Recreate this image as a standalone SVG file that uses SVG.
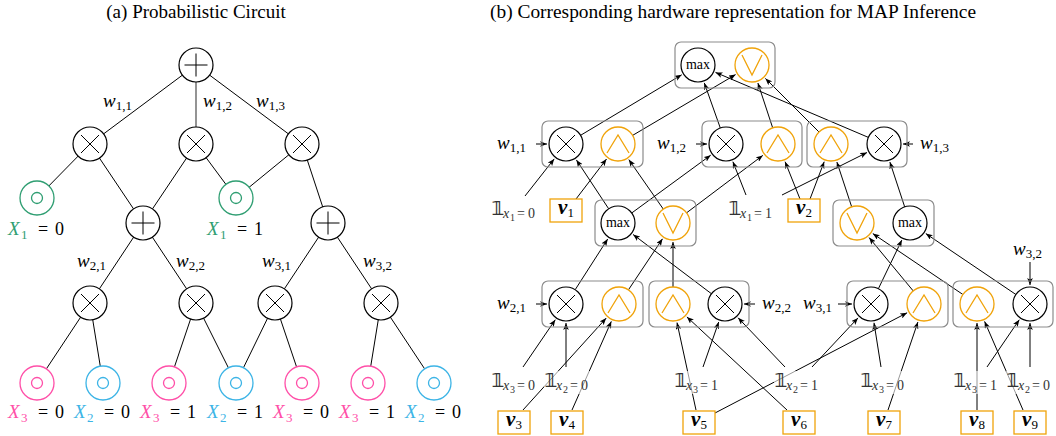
<svg xmlns="http://www.w3.org/2000/svg" width="1056" height="436" viewBox="0 0 1056 436">
<style>
text{font-family:"Liberation Serif","Times New Roman",serif;fill:#000}
.t{font-size:19px;text-anchor:middle}
.i{font-style:italic;font-size:19px}
.r{font-size:18px}
.s{font-size:13px;font-style:normal}
.pe{stroke:#000;stroke-width:1;fill:none}
.ar{stroke:#000;stroke-width:1;fill:none;marker-end:url(#ah)}
.nd{fill:#fff;stroke:#000;stroke-width:1.2}
.og{fill:#fff;stroke:#F0A30A;stroke-width:1.3}
.gl{fill:none;stroke:#F0A30A;stroke-width:1.3}
.bx{fill:none;stroke:#8c8c8c;stroke-width:1.2}
.vbx{fill:#fff;stroke:#F0A30A;stroke-width:1.3}
.mx{font-size:14px;text-anchor:middle}
.ind{fill:#333}
.bb{font-family:"DejaVu Sans",sans-serif;font-size:20px;font-weight:bold}
.si{font-style:italic;font-size:14px}
.ss{font-size:10px}
.sr{font-size:14px}
.vt{font-weight:bold;font-style:italic;font-size:21px;text-anchor:middle}
.vs{font-weight:normal;font-style:normal;font-size:13px}
.lb{fill:#fff;opacity:0.6}
.lf{fill:#fff;stroke:currentColor;stroke-width:1.3}
.G{color:#2f9e72;fill:#2f9e72}
.P{color:#ff4fa8;fill:#ff4fa8}
.B{color:#3cb4e6;fill:#3cb4e6}
</style>
<defs>
<marker id="ah" viewBox="0 0 10 8" refX="10" refY="4" markerWidth="7" markerHeight="5.6" markerUnits="userSpaceOnUse" orient="auto"><path d="M0,0 L10,4 L0,8 L2.5,4 z" fill="#000"/></marker>
<g id="mul"><circle r="17" class="nd"/><path d="M-9,-9L9,9M-9,9L9,-9" class="pe"/></g>
<g id="add"><circle r="17" class="nd"/><path d="M-11.5,0H11.5M0,-11.5V11.5" class="pe"/></g>
<g id="orn"><circle r="17" class="og"/><polyline points="-10,-10 0,10 10,-10" class="gl"/></g>
<g id="andn"><circle r="17" class="og"/><polyline points="-11,9 0,-9 11,9" class="gl"/></g>
<g id="leaf"><circle r="17" class="lf"/><circle r="5.5" class="lf"/></g>
</defs>
<rect width="1056" height="436" fill="#fff"/>

<!-- (a) Probabilistic circuit -->
<text class="t" x="196" y="18">(a) Probabilistic Circuit</text>
<g id="a-edges" class="pe">
<line x1="196" y1="65" x2="90" y2="144"/>
<line x1="196" y1="65" x2="196" y2="144" stroke="#666" stroke-width="1.4"/>
<line x1="196" y1="65" x2="302" y2="144"/>
<line x1="90" y1="144" x2="37" y2="198"/>
<line x1="90" y1="144" x2="143" y2="223"/>
<line x1="196" y1="144" x2="143" y2="223"/>
<line x1="196" y1="144" x2="236" y2="198"/>
<line x1="302" y1="144" x2="236" y2="198"/>
<line x1="302" y1="144" x2="328" y2="223"/>
<line x1="143" y1="223" x2="90" y2="303"/>
<line x1="143" y1="223" x2="196" y2="303"/>
<line x1="328" y1="223" x2="275" y2="303"/>
<line x1="328" y1="223" x2="381" y2="303"/>
<line x1="90" y1="303" x2="37" y2="383"/>
<line x1="90" y1="303" x2="103" y2="383"/>
<line x1="196" y1="303" x2="169" y2="383"/>
<line x1="196" y1="303" x2="236" y2="383"/>
<line x1="275" y1="303" x2="236" y2="383"/>
<line x1="275" y1="303" x2="302" y2="383"/>
<line x1="381" y1="303" x2="368" y2="383"/>
<line x1="381" y1="303" x2="434" y2="383"/>
</g>
<g id="a-root"><use href="#add" x="196" y="65"/></g>
<g id="a-p1"><use href="#mul" x="90" y="144"/></g>
<g id="a-p2"><use href="#mul" x="196" y="144"/></g>
<g id="a-p3"><use href="#mul" x="302" y="144"/></g>
<g id="a-s1"><use href="#add" x="143" y="223"/></g>
<g id="a-s2"><use href="#add" x="328" y="223"/></g>
<g id="a-p4"><use href="#mul" x="90" y="303"/></g>
<g id="a-p5"><use href="#mul" x="196" y="303"/></g>
<g id="a-p6"><use href="#mul" x="275" y="303"/></g>
<g id="a-p7"><use href="#mul" x="381" y="303"/></g>
<g id="a-l1" class="G"><use href="#leaf" x="37" y="198"/><text y="235" class="r"><tspan x="8" class="i G">X</tspan><tspan x="21" dy="4" class="s G">1</tspan><tspan x="38" dy="-4">=</tspan><tspan x="55">0</tspan></text></g>
<g id="a-l2" class="G"><use href="#leaf" x="236" y="198"/><text y="235" class="r"><tspan x="207" class="i G">X</tspan><tspan x="220" dy="4" class="s G">1</tspan><tspan x="237" dy="-4">=</tspan><tspan x="254">1</tspan></text></g>
<g id="a-l3" class="P"><use href="#leaf" x="37" y="383"/><text y="418" class="r"><tspan x="8" class="i P">X</tspan><tspan x="21" dy="4" class="s P">3</tspan><tspan x="38" dy="-4">=</tspan><tspan x="55">0</tspan></text></g>
<g id="a-l4" class="B"><use href="#leaf" x="103" y="383"/><text y="418" class="r"><tspan x="74" class="i B">X</tspan><tspan x="87" dy="4" class="s B">2</tspan><tspan x="104" dy="-4">=</tspan><tspan x="121">0</tspan></text></g>
<g id="a-l5" class="P"><use href="#leaf" x="169" y="383"/><text y="418" class="r"><tspan x="140" class="i P">X</tspan><tspan x="153" dy="4" class="s P">3</tspan><tspan x="170" dy="-4">=</tspan><tspan x="187">1</tspan></text></g>
<g id="a-l6" class="B"><use href="#leaf" x="236" y="383"/><text y="418" class="r"><tspan x="207" class="i B">X</tspan><tspan x="220" dy="4" class="s B">2</tspan><tspan x="237" dy="-4">=</tspan><tspan x="254">1</tspan></text></g>
<g id="a-l7" class="P"><use href="#leaf" x="302" y="383"/><text y="418" class="r"><tspan x="273" class="i P">X</tspan><tspan x="286" dy="4" class="s P">3</tspan><tspan x="303" dy="-4">=</tspan><tspan x="320">0</tspan></text></g>
<g id="a-l8" class="P"><use href="#leaf" x="368" y="383"/><text y="418" class="r"><tspan x="339" class="i P">X</tspan><tspan x="352" dy="4" class="s P">3</tspan><tspan x="369" dy="-4">=</tspan><tspan x="386">1</tspan></text></g>
<g id="a-l9" class="B"><use href="#leaf" x="434" y="383"/><text y="418" class="r"><tspan x="405" class="i B">X</tspan><tspan x="418" dy="4" class="s B">2</tspan><tspan x="435" dy="-4">=</tspan><tspan x="452">0</tspan></text></g>
<g id="a-weights">
<text class="i" x="103" y="107">w<tspan class="s" dy="3">1,1</tspan></text>
<text class="i" x="203" y="107">w<tspan class="s" dy="3">1,2</tspan></text>
<text class="i" x="256" y="107">w<tspan class="s" dy="3">1,3</tspan></text>
<text class="i" x="77" y="267">w<tspan class="s" dy="3">2,1</tspan></text>
<text class="i" x="176" y="267">w<tspan class="s" dy="3">2,2</tspan></text>
<text class="i" x="262" y="267">w<tspan class="s" dy="3">3,1</tspan></text>
<text class="i" x="363" y="267">w<tspan class="s" dy="3">3,2</tspan></text>
</g>

<!-- (b) hardware representation -->
<text class="t" x="733" y="18" style="font-size:19.4px">(b) Corresponding hardware representation for MAP Inference</text>
<g id="b-connectors">
<path class="ar" d="M580.6,135.3 L681.7,74.8"/>
<path class="ar" d="M632.6,135.4 L735.6,74.6"/>
<path class="ar" d="M720.3,128 L704.3,82.9"/>
<path class="ar" d="M772.7,127.9 L757.9,83"/>
<path class="ar" d="M819,132 L765.4,78.4"/>
<path class="ar" d="M868.4,137.4 L715.5,72.4"/>
<path class="ar" d="M536,144 L547,144"/>
<path class="ar" d="M525,196 L554.2,158.9"/>
<path class="ar" d="M576,199 L606.5,159.1"/>
<path class="ar" d="M608.7,208.8 L576.4,159.9"/>
<path class="ar" d="M663.3,209.1 L628.8,159.6"/>
<path class="ar" d="M631.7,213 L710.7,155.2"/>
<path class="ar" d="M686.6,212.8 L762.8,155.4"/>
<path class="ar" d="M746,195 L732.9,161.7"/>
<path class="ar" d="M696,144 L707,144"/>
<path class="ar" d="M800,199 L785.1,161.7"/>
<path class="ar" d="M810,199 L824.2,161.7"/>
<path class="ar" d="M782,195 L867,152.5"/>
<path class="ar" d="M851.7,206.9 L836.9,162"/>
<path class="ar" d="M904.7,206.9 L889.9,162"/>
<path class="ar" d="M913,144 L903,144"/>
<path class="ar" d="M575.2,289.7 L607.7,239"/>
<path class="ar" d="M628.4,289.9 L662.5,238.8"/>
<path class="ar" d="M673,287 L673,242"/>
<path class="ar" d="M711.4,293.7 L633.1,234.5"/>
<path class="ar" d="M878.4,288.7 L901.8,240.1"/>
<path class="ar" d="M913.2,290.9 L869.1,237.6"/>
<path class="ar" d="M962.9,294.5 L872.8,233.6"/>
<path class="ar" d="M1015.9,294.5 L925.8,233.6"/>
<path class="ar" d="M536,304 L547,304"/>
<path class="ar" d="M523,367 L555.3,319.7"/>
<path class="ar" d="M566,367 L566,323"/>
<path class="ar" d="M523,410 L606.2,318.1"/>
<path class="ar" d="M572,410 L611.3,321.4"/>
<path class="ar" d="M696,410 L677,322.6"/>
<path class="ar" d="M703,367 L718.7,322"/>
<path class="ar" d="M787,410 L686.9,316.9"/>
<path class="ar" d="M785,367 L738.1,317.8"/>
<path class="ar" d="M755,304 L744,304"/>
<path class="ar" d="M838,304 L852,304"/>
<path class="ar" d="M812,367 L858,317.9"/>
<path class="ar" d="M715,413 L907.1,312.8"/>
<path class="ar" d="M881,367 L874,322.8"/>
<path class="ar" d="M888,410 L917.9,322"/>
<path class="ar" d="M987,367 L1019.3,319.7"/>
<path class="ar" d="M977,410 L977,323"/>
<path class="ar" d="M1023,410 L984.6,321.4"/>
<path class="ar" d="M1030,367 L1030,323"/>
<path class="ar" d="M1030,262 L1030,285"/>
</g>

<g id="b-top"><rect class="bx" x="675" y="42" width="100" height="46" rx="6"/><circle class="nd" cx="698" cy="65" r="17"/><text class="mx" x="698" y="69">max</text><use href="#orn" x="752" y="65"/></g>
<g id="b-A"><rect class="bx" x="542" y="121" width="101" height="46" rx="6"/><use href="#mul" x="566" y="144"/><use href="#andn" x="618" y="144"/></g>
<g id="b-B"><rect class="bx" x="702" y="121" width="100" height="46" rx="6"/><use href="#mul" x="726" y="144"/><use href="#andn" x="778" y="144"/></g>
<g id="b-C"><rect class="bx" x="807" y="121" width="100" height="46" rx="6"/><use href="#andn" x="831" y="144"/><use href="#mul" x="884" y="144"/></g>
<g id="b-D"><rect class="bx" x="595" y="200" width="101" height="46" rx="6"/><circle class="nd" cx="618" cy="223" r="17"/><text class="mx" x="618" y="227">max</text><use href="#orn" x="673" y="223"/></g>
<g id="b-E"><rect class="bx" x="833" y="200" width="101" height="46" rx="6"/><use href="#orn" x="857" y="223"/><circle class="nd" cx="910" cy="223" r="17"/><text class="mx" x="910" y="227">max</text></g>
<g id="b-F"><rect class="bx" x="542" y="281" width="101" height="46" rx="6"/><use href="#mul" x="566" y="304"/><use href="#andn" x="619" y="304"/></g>
<g id="b-G"><rect class="bx" x="649" y="281" width="100" height="46" rx="6"/><use href="#andn" x="673" y="304"/><use href="#mul" x="725" y="304"/></g>
<g id="b-H"><rect class="bx" x="847" y="281" width="101" height="46" rx="6"/><use href="#mul" x="871" y="304"/><use href="#andn" x="924" y="304"/></g>
<g id="b-I"><rect class="bx" x="953" y="281" width="100" height="46" rx="6"/><use href="#andn" x="977" y="304"/><use href="#mul" x="1030" y="304"/></g>

<g id="b-weights">
<text class="i" x="497" y="149">w<tspan class="s" dy="3">1,1</tspan></text>
<text class="i" x="657" y="149">w<tspan class="s" dy="3">1,2</tspan></text>
<text class="i" x="920" y="149">w<tspan class="s" dy="3">1,3</tspan></text>
<text class="i" x="497" y="309">w<tspan class="s" dy="3">2,1</tspan></text>
<text class="i" x="762" y="309">w<tspan class="s" dy="3">2,2</tspan></text>
<text class="i" x="803" y="309">w<tspan class="s" dy="3">3,1</tspan></text>
<text class="i" x="1013" y="255">w<tspan class="s" dy="3">3,2</tspan></text>
</g>

<g id="b-indicators">
<rect class="lb" x="491" y="199" width="46" height="23"/>
<rect class="lb" x="728" y="199" width="46" height="23"/>
<rect class="lb" x="491" y="371" width="46" height="23"/>
<rect class="lb" x="544" y="371" width="46" height="23"/>
<rect class="lb" x="674" y="371" width="46" height="23"/>
<rect class="lb" x="774" y="371" width="46" height="23"/>
<rect class="lb" x="860" y="371" width="46" height="23"/>
<rect class="lb" x="953" y="371" width="46" height="23"/>
<rect class="lb" x="1006" y="371" width="46" height="23"/>
<text class="ind" y="215"><tspan x="491" class="bb">𝟙</tspan><tspan x="503" dy="3" class="si">x</tspan><tspan x="510" dy="3" class="ss">1</tspan><tspan x="517" dy="-3" class="sr">=</tspan><tspan x="528" class="sr">0</tspan></text>
<text class="ind" y="215"><tspan x="728" class="bb">𝟙</tspan><tspan x="740" dy="3" class="si">x</tspan><tspan x="747" dy="3" class="ss">1</tspan><tspan x="754" dy="-3" class="sr">=</tspan><tspan x="765" class="sr">1</tspan></text>
<text class="ind" y="387"><tspan x="491" class="bb">𝟙</tspan><tspan x="503" dy="3" class="si">x</tspan><tspan x="510" dy="3" class="ss">3</tspan><tspan x="517" dy="-3" class="sr">=</tspan><tspan x="528" class="sr">0</tspan></text>
<text class="ind" y="387"><tspan x="544" class="bb">𝟙</tspan><tspan x="556" dy="3" class="si">x</tspan><tspan x="563" dy="3" class="ss">2</tspan><tspan x="570" dy="-3" class="sr">=</tspan><tspan x="581" class="sr">0</tspan></text>
<text class="ind" y="387"><tspan x="674" class="bb">𝟙</tspan><tspan x="686" dy="3" class="si">x</tspan><tspan x="693" dy="3" class="ss">3</tspan><tspan x="700" dy="-3" class="sr">=</tspan><tspan x="711" class="sr">1</tspan></text>
<text class="ind" y="387"><tspan x="774" class="bb">𝟙</tspan><tspan x="786" dy="3" class="si">x</tspan><tspan x="793" dy="3" class="ss">2</tspan><tspan x="800" dy="-3" class="sr">=</tspan><tspan x="811" class="sr">1</tspan></text>
<text class="ind" y="387"><tspan x="860" class="bb">𝟙</tspan><tspan x="872" dy="3" class="si">x</tspan><tspan x="879" dy="3" class="ss">3</tspan><tspan x="886" dy="-3" class="sr">=</tspan><tspan x="897" class="sr">0</tspan></text>
<text class="ind" y="387"><tspan x="953" class="bb">𝟙</tspan><tspan x="965" dy="3" class="si">x</tspan><tspan x="972" dy="3" class="ss">3</tspan><tspan x="979" dy="-3" class="sr">=</tspan><tspan x="990" class="sr">1</tspan></text>
<text class="ind" y="387"><tspan x="1006" class="bb">𝟙</tspan><tspan x="1018" dy="3" class="si">x</tspan><tspan x="1025" dy="3" class="ss">2</tspan><tspan x="1032" dy="-3" class="sr">=</tspan><tspan x="1043" class="sr">0</tspan></text>
</g>

<g id="b-v1"><rect class="vbx" x="550" y="199" width="32" height="23"/><text class="vt" x="566" y="214">v<tspan class="vs" dy="3">1</tspan></text></g>
<g id="b-v2"><rect class="vbx" x="788" y="199" width="32" height="23"/><text class="vt" x="804" y="214">v<tspan class="vs" dy="3">2</tspan></text></g>
<g id="b-v3"><rect class="vbx" x="498" y="411" width="32" height="23"/><text class="vt" x="514" y="426">v<tspan class="vs" dy="3">3</tspan></text></g>
<g id="b-v4"><rect class="vbx" x="551" y="411" width="32" height="23"/><text class="vt" x="567" y="426">v<tspan class="vs" dy="3">4</tspan></text></g>
<g id="b-v5"><rect class="vbx" x="683" y="411" width="32" height="23"/><text class="vt" x="699" y="426">v<tspan class="vs" dy="3">5</tspan></text></g>
<g id="b-v6"><rect class="vbx" x="783" y="411" width="32" height="23"/><text class="vt" x="799" y="426">v<tspan class="vs" dy="3">6</tspan></text></g>
<g id="b-v7"><rect class="vbx" x="868" y="411" width="32" height="23"/><text class="vt" x="884" y="426">v<tspan class="vs" dy="3">7</tspan></text></g>
<g id="b-v8"><rect class="vbx" x="961" y="411" width="32" height="23"/><text class="vt" x="977" y="426">v<tspan class="vs" dy="3">8</tspan></text></g>
<g id="b-v9"><rect class="vbx" x="1014" y="411" width="32" height="23"/><text class="vt" x="1030" y="426">v<tspan class="vs" dy="3">9</tspan></text></g>
</svg>
